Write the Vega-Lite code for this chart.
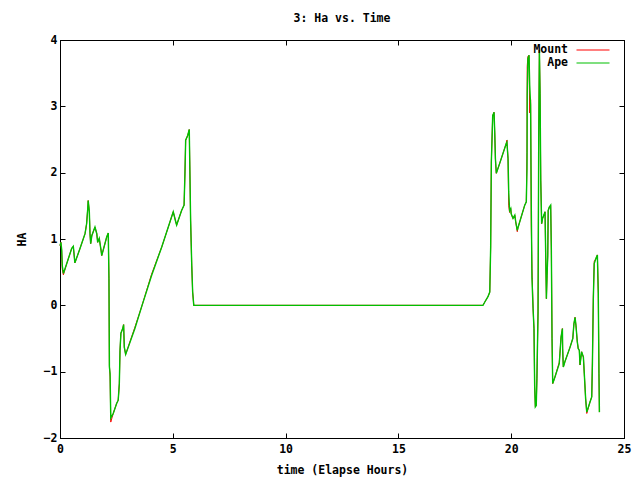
{
  "$schema": "https://vega.github.io/schema/vega-lite/v6.json",
  "width": 564,
  "height": 398,
  "autosize": "none",
  "padding": {"left": 60, "top": 40, "right": 16, "bottom": 42},
  "background": "white",
  "config": {
    "font": "DejaVu Sans Mono",
    "view": {"stroke": "black", "strokeWidth": 1},
    "axis": {"grid": false, "labelFont": "DejaVu Sans Mono", "labelFontWeight": "bold", "labelFontSize": 11.5, "labelColor": "black", "titleFont": "DejaVu Sans Mono", "titleFontWeight": "bold", "titleFontSize": 11.5, "titleColor": "black", "domainColor": "black", "tickColor": "black", "tickSize": -5}
  },
  "title": {"text": "3: Ha vs. Time", "font": "DejaVu Sans Mono", "fontWeight": "bold", "fontSize": 11.5, "color": "black", "offset": 10, "anchor": "middle"},
  "data": {"values": [
    {"t":0,"Mount":0.90,"Ape":0.90},{"t":0.04,"Mount":0.95,"Ape":0.95},{"t":0.075,"Mount":0.82,"Ape":0.84},{"t":0.10,"Mount":0.55,"Ape":0.60},{"t":0.15,"Mount":0.46,"Ape":0.48},{"t":0.30,"Mount":0.63,"Ape":0.63},{"t":0.52,"Mount":0.86,"Ape":0.86},{"t":0.59,"Mount":0.89,"Ape":0.89},{"t":0.66,"Mount":0.64,"Ape":0.64},{"t":0.89,"Mount":0.86,"Ape":0.86},
    {"t":1.11,"Mount":1.08,"Ape":1.08},{"t":1.18,"Mount":1.23,"Ape":1.23},{"t":1.23,"Mount":1.46,"Ape":1.46},{"t":1.25,"Mount":1.58,"Ape":1.58},{"t":1.30,"Mount":1.41,"Ape":1.41},{"t":1.33,"Mount":1.08,"Ape":1.08},{"t":1.36,"Mount":0.93,"Ape":0.93},{"t":1.41,"Mount":1.05,"Ape":1.05},{"t":1.55,"Mount":1.18,"Ape":1.18},{"t":1.63,"Mount":1.08,"Ape":1.08},
    {"t":1.67,"Mount":0.95,"Ape":0.95},{"t":1.74,"Mount":1.01,"Ape":1.01},{"t":1.82,"Mount":0.83,"Ape":0.83},{"t":1.85,"Mount":0.75,"Ape":0.75},{"t":2.07,"Mount":1.03,"Ape":1.03},{"t":2.14,"Mount":1.09,"Ape":1.09},{"t":2.17,"Mount":0.40,"Ape":0.40},{"t":2.19,"Mount":-0.90,"Ape":-0.93},{"t":2.22,"Mount":-1.08,"Ape":-1.03},{"t":2.25,"Mount":-1.76,"Ape":-1.70},
    {"t":2.36,"Mount":-1.63,"Ape":-1.63},{"t":2.51,"Mount":-1.48,"Ape":-1.48},{"t":2.58,"Mount":-1.43,"Ape":-1.43},{"t":2.63,"Mount":-1.18,"Ape":-1.18},{"t":2.66,"Mount":-0.68,"Ape":-0.68},{"t":2.70,"Mount":-0.42,"Ape":-0.42},{"t":2.78,"Mount":-0.35,"Ape":-0.35},{"t":2.82,"Mount":-0.29,"Ape":-0.29},{"t":2.85,"Mount":-0.63,"Ape":-0.63},{"t":2.91,"Mount":-0.74,"Ape":-0.74},
    {"t":3.32,"Mount":-0.33,"Ape":-0.35},{"t":3.62,"Mount":-0.02,"Ape":-0.02},{"t":4.06,"Mount":0.47,"Ape":0.45},{"t":4.51,"Mount":0.88,"Ape":0.88},{"t":4.80,"Mount":1.18,"Ape":1.18},{"t":5.02,"Mount":1.41,"Ape":1.41},{"t":5.13,"Mount":1.26,"Ape":1.26},{"t":5.17,"Mount":1.21,"Ape":1.21},{"t":5.39,"Mount":1.43,"Ape":1.43},{"t":5.50,"Mount":1.51,"Ape":1.51},
    {"t":5.54,"Mount":2.01,"Ape":2.01},{"t":5.57,"Mount":2.49,"Ape":2.49},{"t":5.66,"Mount":2.56,"Ape":2.56},{"t":5.73,"Mount":2.65,"Ape":2.65},{"t":5.75,"Mount":2.19,"Ape":2.19},{"t":5.79,"Mount":1.28,"Ape":1.28},{"t":5.84,"Mount":0.60,"Ape":0.60},{"t":5.88,"Mount":0.20,"Ape":0.20},{"t":5.93,"Mount":0.0,"Ape":0.0},{"t":18.75,"Mount":0.0,"Ape":0.0},
    {"t":18.83,"Mount":0.05,"Ape":0.05},{"t":18.97,"Mount":0.13,"Ape":0.13},{"t":19.05,"Mount":0.20,"Ape":0.20},{"t":19.09,"Mount":0.88,"Ape":0.88},{"t":19.12,"Mount":2.16,"Ape":2.16},{"t":19.18,"Mount":2.86,"Ape":2.86},{"t":19.24,"Mount":2.91,"Ape":2.91},{"t":19.27,"Mount":2.61,"Ape":2.61},{"t":19.30,"Mount":2.21,"Ape":2.21},{"t":19.34,"Mount":1.99,"Ape":1.99},
    {"t":19.49,"Mount":2.14,"Ape":2.14},{"t":19.78,"Mount":2.44,"Ape":2.44},{"t":19.81,"Mount":2.49,"Ape":2.46},{"t":19.86,"Mount":2.21,"Ape":2.21},{"t":19.89,"Mount":1.50,"Ape":1.71},{"t":19.93,"Mount":1.40,"Ape":1.43},{"t":19.98,"Mount":1.46,"Ape":1.46},{"t":20.00,"Mount":1.38,"Ape":1.38},{"t":20.08,"Mount":1.31,"Ape":1.31},{"t":20.16,"Mount":1.36,"Ape":1.36},
    {"t":20.20,"Mount":1.26,"Ape":1.26},{"t":20.27,"Mount":1.11,"Ape":1.13},{"t":20.30,"Mount":1.17,"Ape":1.17},{"t":20.60,"Mount":1.51,"Ape":1.51},{"t":20.67,"Mount":1.56,"Ape":1.56},{"t":20.70,"Mount":2.30,"Ape":2.06},{"t":20.71,"Mount":3.60,"Ape":3.17},{"t":20.74,"Mount":3.75,"Ape":3.72},{"t":20.79,"Mount":3.77,"Ape":3.77},{"t":20.82,"Mount":2.90,"Ape":3.32},
    {"t":20.86,"Mount":3.10,"Ape":3.02},{"t":20.89,"Mount":1.20,"Ape":1.51},{"t":20.92,"Mount":0.55,"Ape":0.41},{"t":20.97,"Mount":-0.05,"Ape":-0.05},{"t":21.01,"Mount":-0.35,"Ape":-0.35},{"t":21.04,"Mount":-1.21,"Ape":-1.21},{"t":21.07,"Mount":-1.53,"Ape":-1.53},{"t":21.11,"Mount":-1.51,"Ape":-1.51},{"t":21.14,"Mount":-1.10,"Ape":-1.10},{"t":21.19,"Mount":-0.10,"Ape":-0.10},
    {"t":21.22,"Mount":2.52,"Ape":2.52},{"t":21.25,"Mount":3.85,"Ape":3.85},{"t":21.28,"Mount":3.19,"Ape":3.19},{"t":21.31,"Mount":1.88,"Ape":1.88},{"t":21.35,"Mount":1.23,"Ape":1.23},{"t":21.39,"Mount":1.31,"Ape":1.31},{"t":21.45,"Mount":1.36,"Ape":1.36},{"t":21.50,"Mount":1.41,"Ape":1.41},{"t":21.53,"Mount":0.75,"Ape":0.75},{"t":21.56,"Mount":0.10,"Ape":0.10},
    {"t":21.59,"Mount":0.45,"Ape":0.45},{"t":21.62,"Mount":0.75,"Ape":0.75},{"t":21.64,"Mount":1.43,"Ape":1.43},{"t":21.69,"Mount":1.48,"Ape":1.48},{"t":21.75,"Mount":1.51,"Ape":1.51},{"t":21.78,"Mount":0.83,"Ape":0.83},{"t":21.81,"Mount":-0.50,"Ape":-0.50},{"t":21.84,"Mount":-1.18,"Ape":-1.18},{"t":21.94,"Mount":-1.08,"Ape":-1.08},{"t":22.13,"Mount":-0.86,"Ape":-0.88},
    {"t":22.16,"Mount":-0.73,"Ape":-0.73},{"t":22.21,"Mount":-0.48,"Ape":-0.48},{"t":22.27,"Mount":-0.35,"Ape":-0.35},{"t":22.28,"Mount":-0.65,"Ape":-0.65},{"t":22.31,"Mount":-0.93,"Ape":-0.93},{"t":22.38,"Mount":-0.85,"Ape":-0.85},{"t":22.61,"Mount":-0.63,"Ape":-0.63},{"t":22.73,"Mount":-0.50,"Ape":-0.50},{"t":22.78,"Mount":-0.28,"Ape":-0.28},{"t":22.83,"Mount":-0.18,"Ape":-0.18},
    {"t":22.87,"Mount":-0.30,"Ape":-0.30},{"t":22.93,"Mount":-0.55,"Ape":-0.55},{"t":22.97,"Mount":-0.65,"Ape":-0.65},{"t":23.02,"Mount":-0.68,"Ape":-0.68},{"t":23.05,"Mount":-0.90,"Ape":-0.90},{"t":23.12,"Mount":-0.70,"Ape":-0.70},{"t":23.20,"Mount":-0.78,"Ape":-0.78},{"t":23.24,"Mount":-1.03,"Ape":-1.03},{"t":23.30,"Mount":-1.41,"Ape":-1.41},{"t":23.35,"Mount":-1.63,"Ape":-1.61},
    {"t":23.49,"Mount":-1.46,"Ape":-1.46},{"t":23.57,"Mount":-1.38,"Ape":-1.38},{"t":23.60,"Mount":-0.85,"Ape":-0.88},{"t":23.64,"Mount":0.12,"Ape":0.10},{"t":23.68,"Mount":0.66,"Ape":0.63},{"t":23.76,"Mount":0.71,"Ape":0.71},{"t":23.82,"Mount":0.76,"Ape":0.76},{"t":23.86,"Mount":0.18,"Ape":0.18},{"t":23.89,"Mount":-1.03,"Ape":-1.03},{"t":23.91,"Mount":-1.61,"Ape":-1.61}
  ]},
  "transform": [{"fold": ["Mount", "Ape"], "as": ["series", "ha"]}],
  "resolve": {"axis": {"x": "independent", "y": "independent"}},
  "layer": [
    {
      "transform": [{"filter": "datum.series === 'Mount'"}],
      "mark": {"type": "line", "strokeWidth": 1, "interpolate": "linear"},
      "encoding": {
        "x": {"field": "t", "type": "quantitative", "scale": {"domain": [0, 25], "nice": false, "zero": false}, "axis": {"title": "time (Elapse Hours)", "values": [0, 5, 10, 15, 20, 25], "labelPadding": 10, "titlePadding": 10, "labelFlush": false}},
        "y": {"field": "ha", "type": "quantitative", "scale": {"domain": [-2, 4], "nice": false, "zero": false}, "axis": {"title": "HA", "values": [-2, -1, 0, 1, 2, 3, 4], "labelPadding": 8, "titlePadding": 16, "labelFlush": false}},
        "color": {"field": "series", "type": "nominal", "scale": {"domain": ["Mount", "Ape"], "range": ["#ff0000", "#00c000"]}, "legend": {"title": null, "orient": "none", "legendX": 526, "legendY": 3, "padding": 0, "symbolType": "M-2.75,0H2.75", "symbolSize": 144, "symbolStrokeWidth": 1.2, "symbolFillColor": "transparent", "labelAlign": "right", "labelOffset": -32, "labelFont": "DejaVu Sans Mono", "labelFontWeight": "bold", "labelFontSize": 11.5, "labelColor": "black", "rowPadding": 0}}
      }
    },
    {
      "transform": [{"filter": "datum.series === 'Ape'"}],
      "mark": {"type": "line", "strokeWidth": 1.4, "interpolate": "linear"},
      "encoding": {
        "x": {"field": "t", "type": "quantitative", "axis": {"orient": "top", "title": null, "labels": false, "values": [0, 5, 10, 15, 20, 25]}},
        "y": {"field": "ha", "type": "quantitative", "axis": {"orient": "right", "title": null, "labels": false, "values": [-2, -1, 0, 1, 2, 3, 4]}},
        "color": {"field": "series", "type": "nominal"}
      }
    }
  ]
}
